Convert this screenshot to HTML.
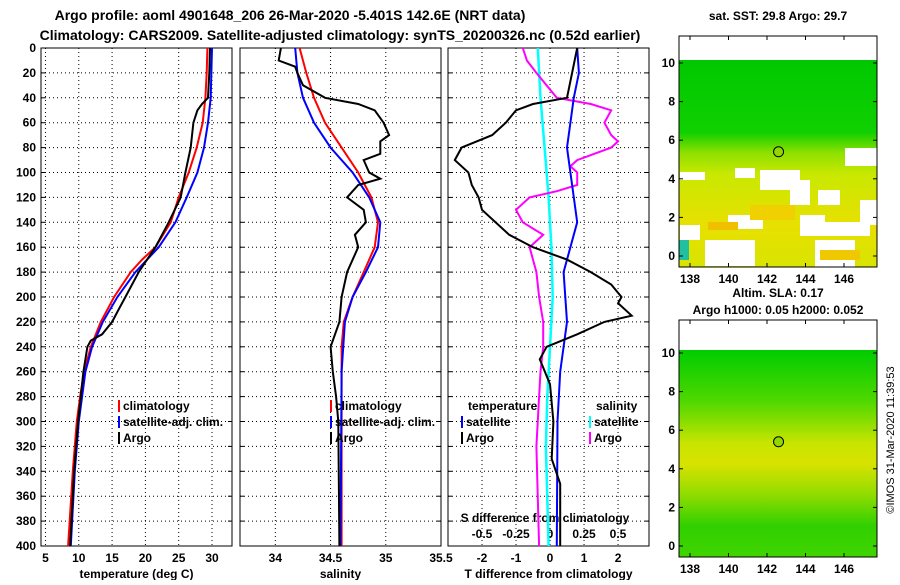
<!DOCTYPE html>
<html><head><meta charset="utf-8"><style>
body{margin:0;background:#fff}
svg text{font-family:"Liberation Sans",sans-serif;font-weight:bold;font-size:12px}
</style></head><body>
<svg id="s" width="900" height="580" xmlns="http://www.w3.org/2000/svg">
<defs>
<linearGradient id="g1" x1="0" y1="0" x2="0" y2="1">
<stop offset="0" stop-color="#00c800"/><stop offset="0.35" stop-color="#10d000"/><stop offset="0.45" stop-color="#90e000"/><stop offset="0.55" stop-color="#c8e800"/><stop offset="0.8" stop-color="#e8e000"/><stop offset="1" stop-color="#d8e400"/>
</linearGradient>
<linearGradient id="g2" x1="0" y1="0" x2="0" y2="1">
<stop offset="0" stop-color="#00cc00"/><stop offset="0.25" stop-color="#50d800"/><stop offset="0.45" stop-color="#c8e400"/><stop offset="0.55" stop-color="#d8e200"/><stop offset="0.7" stop-color="#90dc00"/><stop offset="0.85" stop-color="#30d000"/><stop offset="1" stop-color="#40d400"/>
</linearGradient>
</defs>
<text x="290" y="20" text-anchor="middle" style="font-size:14px">Argo profile: aoml 4901648_206 26-Mar-2020 -5.401S 142.6E (NRT data)</text>
<text x="340" y="40" text-anchor="middle" style="font-size:14px">Climatology: CARS2009. Satellite-adjusted climatology: synTS_20200326.nc (0.52d earlier)</text>
<g id="plots"></g>
<text transform="translate(894,440) rotate(-90)" text-anchor="middle" style="font-weight:normal;font-size:11px">©IMOS 31-Mar-2020 11:39:53</text>
</svg>
<script>
const depthTicks=[0,20,40,60,80,100,120,140,160,180,200,220,240,260,280,300,320,340,360,380,400];
const tTicks=[5,10,15,20,25,30];
const sTicks=[34,34.5,35,35.5];
const tdTicks=[-2,-1,0,1,2];
const sdTicks=[-0.5,-0.25,0,0.25,0.5];
const sdTickLabels=["-0.5","-0.25","0","0.25","0.5"];
const tempClimD=[0,20,40,60,80,100,120,140,160,170,180,200,220,240,260,280,300,340,400];
const tempClim=[29.3,29.2,29,28.6,27.7,26.5,25,23.8,21.5,19.5,17.8,15.3,13.3,11.8,10.8,10.2,9.7,9.1,8.4];
const tempSatD=[0,40,60,80,100,120,140,160,180,200,220,240,260,280,300,340,400];
const tempSat=[30,29.8,29.4,28.8,27.8,26.2,24.5,22,18.5,15.8,13.6,12,11,10.5,10,9.4,8.8];
const tempArgoD=[0,20,40,45,50,60,80,100,120,140,160,180,200,210,220,230,235,240,260,280,300,340,400];
const tempArgo=[29.7,29.6,29.4,28.5,27.8,27.2,26.8,26,25.3,23.5,21.5,19,17,16,15,13.5,11.8,11.3,10.7,10.3,9.9,9.3,8.7];
const salClimD=[0,20,40,60,80,100,120,140,160,180,200,220,240,400];
const salClim=[34.22,34.28,34.35,34.45,34.6,34.75,34.87,34.93,34.9,34.8,34.7,34.62,34.6,34.6];
const salSatD=[0,20,40,60,80,100,120,140,160,180,200,220,260,400];
const salSat=[34.18,34.2,34.25,34.35,34.5,34.7,34.85,34.95,34.93,34.82,34.7,34.63,34.6,34.59];
const salArgoD=[0,10,15,20,30,40,45,50,60,70,75,85,90,100,105,110,120,130,140,150,160,180,200,220,240,260,280,300,400];
const salArgo=[34.05,34.03,34.18,34.2,34.25,34.45,34.75,34.9,34.98,35.03,34.95,34.95,34.8,34.85,34.95,34.75,34.65,34.8,34.82,34.72,34.75,34.65,34.6,34.58,34.5,34.52,34.55,34.57,34.58];
const tdArgoD=[0,40,45,50,60,70,80,90,100,110,120,130,150,160,170,180,190,200,205,215,220,230,240,250,270,300,330,350,400];
const tdArgo=[0.8,0.5,-0.5,-1,-1.3,-1.7,-2.6,-2.8,-2.4,-2.3,-2.1,-2.0,-1.2,-0.5,0.5,1.2,1.8,2.1,2.0,2.4,1.6,0.8,-0.1,-0.3,0,0.1,0.05,0.3,0.3];
const tdSatD=[0,20,40,60,80,100,120,140,160,180,200,220,240,260,300,400];
const tdSat=[0.8,0.85,0.7,0.6,0.5,0.6,0.7,0.8,0.6,0.4,0.45,0.5,0.4,0.3,0.22,0.2];
const sdSatD=[0,40,80,120,160,200,240,280,320,400];
const sdSat=[-0.09,-0.07,-0.04,-0.01,0.01,0.02,0,-0.02,-0.03,-0.01];
const sdArgoD=[0,10,20,40,45,50,60,70,75,80,90,95,100,110,115,120,130,140,150,160,180,200,220,240,260,280,320,400];
const sdArgo=[-0.2,-0.17,-0.1,0.05,0.3,0.45,0.4,0.45,0.5,0.45,0.2,0.15,0.2,0.2,0.05,-0.15,-0.25,-0.2,-0.05,-0.15,-0.1,-0.08,-0.05,-0.05,-0.07,-0.08,-0.1,-0.08];
const lonTicks=[138,140,142,144,146];
const latTicks=[0,2,4,6,8,10];
const argoLon=[142.6], argoLat=[5.4];

const NS='http://www.w3.org/2000/svg';
const root=document.getElementById('plots');
function mk(tag,at,parent){const e=document.createElementNS(NS,tag);for(const k in at)e.setAttribute(k,at[k]);(parent||root).appendChild(e);return e;}
const Y0=48,Y1=546;
const yD=d=>Y0+(d/400)*(Y1-Y0);
function panel(name,x0,x1,vmin,vmax,ticks,labels,xlabel,showY){
  const sx=v=>x0+(v-vmin)/(vmax-vmin)*(x1-x0);
  const g=mk('g',{});
  
  
  depthTicks.forEach(d=>{const l=mk('line',{x1:x0,x2:x1,y1:yD(d),y2:yD(d),stroke:'#000','stroke-dasharray':'1,3','stroke-width':1},g);
    if(showY){const t=mk('text',{x:x0-5,y:yD(d)+4,'text-anchor':'end'},g);t.textContent=d;}
    mk('line',{x1:x0,x2:x0+4,y1:yD(d),y2:yD(d),stroke:'#000'},g);mk('line',{x1:x1-4,x2:x1,y1:yD(d),y2:yD(d),stroke:'#000'},g);});
  ticks.forEach((v,i)=>{const x=sx(v);const l=mk('line',{x1:x,x2:x,y1:Y0,y2:Y1,stroke:'#000','stroke-dasharray':'1,3'},g);
    const t=mk('text',{x:x,y:Y1+16,'text-anchor':'middle'},g);t.textContent=labels?labels[i]:v;});
  mk('rect',{x:x0,y:Y0,width:x1-x0,height:Y1-Y0,fill:'none',stroke:'#000','stroke-width':1},g);
  const xt=mk('text',{x:(x0+x1)/2,y:578,'text-anchor':'middle'},g);xt.textContent=xlabel;
  return {g,sx};
}
function line(p,ds,vs,color,name,w,scale){
  const sx=scale||p.sx;
  const pts=ds.map((d,i)=>sx(vs[i]).toFixed(1)+','+yD(d).toFixed(1)).join(' ');
  const l=mk('polyline',{points:pts,fill:'none',stroke:color,'stroke-width':w||2},p.g);
  
  
}
function legend(g,x,y,color,label){
  mk('rect',{x:x,y:y-10,width:2,height:12,fill:color},g);
  const t=mk('text',{x:x+5,y:y},g);t.textContent=label;
  
  
}
const p1=panel('temperature-panel',41,232,4.33,33,tTicks,null,'temperature (deg C)',true);
line(p1,tempClimD,tempClim,'#f00','temp-climatology-line');
line(p1,tempSatD,tempSat,'#00f','temp-satellite-line');
line(p1,tempArgoD,tempArgo,'#000','temp-argo-line');
legend(p1.g,118,410,'#f00','climatology');legend(p1.g,118,426,'#00f','satellite-adj. clim.');legend(p1.g,118,442,'#000','Argo');
const p2=panel('salinity-panel',240,441,33.68,35.5,sTicks,null,'salinity',false);
line(p2,salClimD,salClim,'#f00','sal-climatology-line');
line(p2,salSatD,salSat,'#00f','sal-satellite-line');
line(p2,salArgoD,salArgo,'#000','sal-argo-line');
legend(p2.g,330,410,'#f00','climatology');legend(p2.g,330,426,'#00f','satellite-adj. clim.');legend(p2.g,330,442,'#000','Argo');
const p3=panel('difference-panel',448,649,-3,2.91,tdTicks,null,'T difference from climatology',false);
const sdx=v=>550+v*136;
sdTicks.forEach((v,i)=>{const t=mk('text',{x:sdx(v),y:538,'text-anchor':'middle'},p3.g);t.textContent=sdTickLabels[i];});
{const t=mk('text',{x:545,y:522,'text-anchor':'middle'},p3.g);t.textContent='S difference from climatology';}
line(p3,sdSatD,sdSat,'#0ff','sdiff-satellite-line',2.5,sdx);
line(p3,sdArgoD,sdArgo,'#f0f','sdiff-argo-line',2,sdx);
line(p3,tdSatD,tdSat,'#00f','tdiff-satellite-line');
line(p3,tdArgoD,tdArgo,'#000','tdiff-argo-line');
{const t=mk('text',{x:468,y:410},p3.g);t.textContent='temperature';const t2=mk('text',{x:596,y:410},p3.g);t2.textContent='salinity';}
legend(p3.g,461,426,'#00f','satellite');legend(p3.g,461,442,'#000','Argo');
legend(p3.g,589,426,'#0ff','satellite');legend(p3.g,589,442,'#f0f','Argo');

function map(name,y0,y1,lat0y,lat10y,dataTop,grad,title,titleY,extra){
  const x0=679,x1=877;
  const lx=v=>690+(v-138)*(844-690)/8;
  const ly=v=>lat0y+(v/10)*(lat10y-lat0y);
  const g=mk('g',{});
  
  
  mk('rect',{x:x0,y:dataTop,width:x1-x0,height:y1-dataTop,fill:'url(#'+grad+')'},g);
  if(extra)extra(g,ly);
  mk('rect',{x:x0,y:y0,width:x1-x0,height:y1-y0,fill:'none',stroke:'#000'},g);
  lonTicks.forEach(v=>{mk('line',{x1:lx(v),x2:lx(v),y1:y0,y2:y0+4,stroke:'#000'},g);mk('line',{x1:lx(v),x2:lx(v),y1:y1-4,y2:y1,stroke:'#000'},g);
    const t=mk('text',{x:lx(v),y:y1+16,'text-anchor':'middle'},g);t.textContent=v;});
  latTicks.forEach(v=>{mk('line',{x1:x0,x2:x0+4,y1:ly(v),y2:ly(v),stroke:'#000'},g);mk('line',{x1:x1-4,x2:x1,y1:ly(v),y2:ly(v),stroke:'#000'},g);
    const t=mk('text',{x:x0-4,y:ly(v)+4,'text-anchor':'end'},g);t.textContent=v;});
  const c=mk('circle',{cx:lx(argoLon[0]),cy:ly(argoLat[0]),r:5,fill:'#90d800',stroke:'#000'},g);
  
  
  title.forEach((tx,i)=>{const t=mk('text',{x:778,y:titleY[i],'text-anchor':'middle'},g);t.textContent=tx;});
}
map('sst-map',36,267,256,63,60,'g1',['sat. SST: 29.8 Argo: 29.7'],[20],(g,ly)=>{
  [[760,170,40,20],[680,172,25,8],[845,148,32,18],[790,180,20,25],[818,190,22,15],[728,215,35,14],[800,215,25,10],[680,225,20,15],[705,240,50,26],[800,222,70,14],[815,240,40,27],[735,168,20,10],[860,200,17,25]].forEach(r=>mk('rect',{x:r[0],y:r[1],width:r[2],height:r[3],fill:'#fff'},g));
  [[708,222,30,8,'#f0c000'],[750,205,45,15,'#f0d000'],[820,250,40,10,'#f0c800'],[679,240,10,20,'#20c0a0']].forEach(r=>mk('rect',{x:r[0],y:r[1],width:r[2],height:r[3],fill:r[4]},g));
});
map('sla-map',320,557,546,353,350,'g2',['Altim. SLA: 0.17','Argo h1000: 0.05 h2000: 0.052'],[297,314]);
</script>
</body></html>
